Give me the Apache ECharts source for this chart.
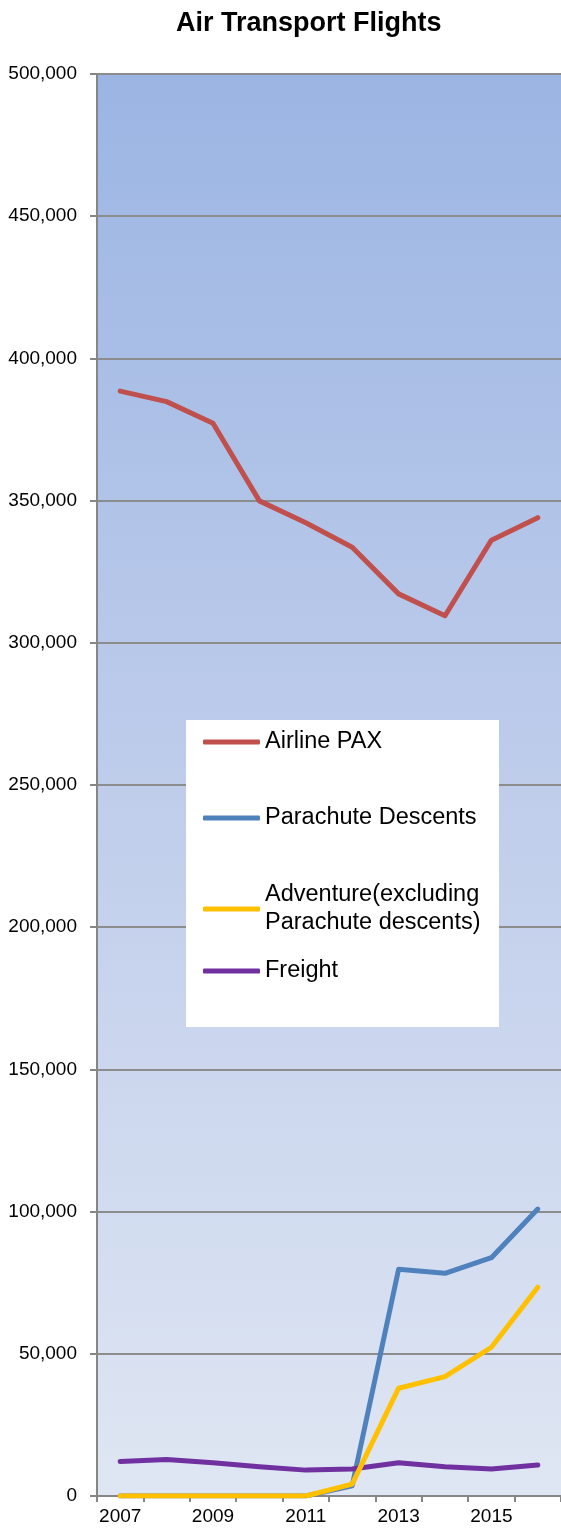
<!DOCTYPE html>
<html>
<head>
<meta charset="utf-8">
<script src="https://cdn.jsdelivr.net/npm/echarts@6/dist/echarts.min.js"></script>
<style>
  html, body { margin: 0; padding: 0; background: #fff; }
  #chart { width: 561px; height: 1531px; }
</style>
</head>
<body>
<div id="chart"></div>
<script>
// values
var years = ['2007', '2008', '2009', '2010', '2011', '2012', '2013', '2014', '2015', '2016'];
var airlinePax = [388500, 384800, 377200, 349900, 342200, 333600, 317200, 309500, 336100, 344000];
var parachute  = [0, 0, 0, 0, 0, 3600, 79700, 78300, 83800, 100900];
var adventure  = [0, 0, 0, 0, 0, 4200, 37900, 42000, 52300, 73400];
var freight    = [12100, 12800, 11700, 10300, 9100, 9500, 11700, 10300, 9500, 10900];

var names = ['Airline PAX', 'Parachute Descents', 'Adventure(excluding\nParachute descents)', 'Freight'];
var colors = ['#C0504D', '#4F81BD', '#FFC000', '#7030A0'];
var values = [airlinePax, parachute, adventure, freight];

var font = "'Liberation Sans', Arial, sans-serif";
var legendTops = [728, 804, 881, 957];

var myChart = echarts.init(document.getElementById('chart'), null, { renderer: 'canvas' });
myChart.setOption({
    animation: false,
    title: {
        text: 'Air Transport Flights',
        left: 171,
        top: 5,
        textStyle: { fontFamily: font, fontWeight: 'bold', fontSize: 27, color: '#000' }
    },
    grid: {
        left: 97, top: 74, width: 467, height: 1422,
        show: true, borderWidth: 0,
        backgroundColor: new echarts.graphic.LinearGradient(0, 0, 0, 1, [
            { offset: 0, color: '#9bb5e3' },
            { offset: 0.5, color: '#bfcdeb' },
            { offset: 1, color: '#dfe6f3' }
        ])
    },
    graphic: [{
        type: 'rect', z: 3,
        shape: { x: 186, y: 720, width: 313, height: 307 },
        style: { fill: '#ffffff' }
    }],
    legend: names.map(function (n, i) {
        return {
            data: [n], orient: 'vertical', left: 203, top: legendTops[i], z: 5,
            padding: 0, icon: 'roundRect', itemWidth: 57, itemHeight: 5,
            textStyle: { fontFamily: font, fontSize: 23.5, color: '#000', lineHeight: 28 }
        };
    }),
    xAxis: {
        type: 'category', data: years, boundaryGap: true,
        axisLine: { lineStyle: { color: '#868686', width: 2 } },
        axisTick: { show: true, interval: 0, length: 6, lineStyle: { color: '#868686', width: 2 } },
        axisLabel: { interval: 1, margin: 11, fontFamily: font, fontSize: 19, color: '#000' }
    },
    yAxis: {
        type: 'value', min: 0, max: 500000, interval: 50000,
        axisLine: { show: true, lineStyle: { color: '#868686', width: 2 } },
        axisTick: { show: true, length: 7, lineStyle: { color: '#868686', width: 2 } },
        splitLine: { lineStyle: { color: '#8c8c8c', width: 2 } },
        axisLabel: {
            margin: 20, fontFamily: font, fontSize: 19, color: '#000',
            formatter: function (v) { return v.toLocaleString('en-US'); }
        }
    },
    series: names.map(function (n, i) {
        return {
            name: n, type: 'line', data: values[i],
            showSymbol: false, symbol: 'none',
            lineStyle: { color: colors[i], width: 5, cap: 'round', join: 'round' },
            itemStyle: { color: colors[i] },
            z: i === 2 ? 3 : 2
        };
    })
});
</script>
</body>
</html>
